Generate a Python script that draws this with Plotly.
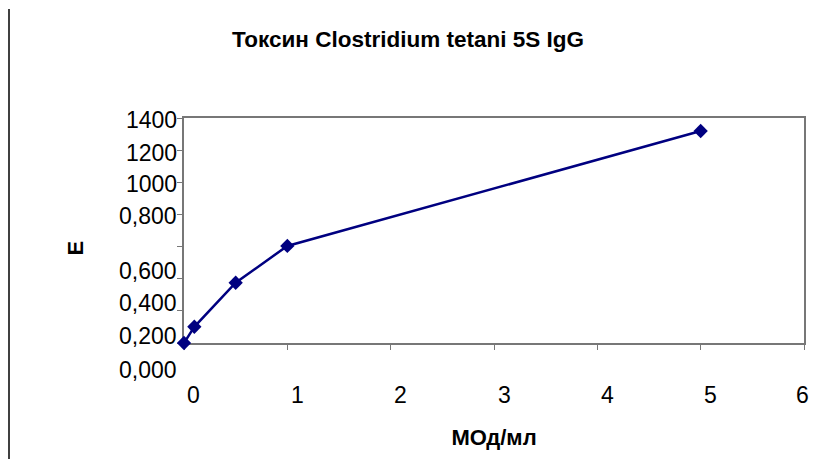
import plotly.graph_objects as go

# ---- data ----
x_vals = [0, 0.1, 0.5, 1, 5]
y_vals = [0.0, 0.101, 0.375, 0.604, 1.319]

x_tick_vals = [0, 1, 2, 3, 4, 5, 6]
x_tick_labels = ["0", "1", "2", "3", "4", "5", "6"]

y_tick_vals = [0, 0.2, 0.4, 0.6, 0.8, 1.0, 1.2, 1.4]
y_tick_labels = ["1400", "1200", "1000", "0,800", "0,600", "0,400", "0,200", "0,000"]

title_text = "Токсин Clostridium tetani 5S IgG"
x_title = "МОд/мл"
y_title = "Е"

# ---- layout helpers (label placement, as in the reference) ----
Y_MIN, Y_MAX = 0, 1.4
y_label_anchor = [1.4, 1.2, 1.0, 0.8, 0.4, 0.2, 0.0, -0.2]
y_label_shift = [-2, -3, -2, -2, 8, 8, 7, 5]
x_label_shift = [9, 10, 10, 10, 10, 10, -2]

FONT = "Liberation Sans, Arial, sans-serif"
AXC = "#777777"

# page body has an 8px margin, so the figure is sized to fit inside it
W, H = 811, 451
ML, MR, MT, MB = 176, 15, 110, 116
PW, PH = W - ML - MR, H - MT - MB

fig = go.Figure()
fig.add_trace(go.Scatter(
    x=x_vals, y=y_vals, mode="lines+markers",
    line=dict(color="#000080", width=2.5),
    marker=dict(symbol="diamond", size=11, color="#000080"),
    cliponaxis=False, showlegend=False,
))

annotations = []
for lab, v, s in zip(y_tick_labels, y_label_anchor, y_label_shift):
    annotations.append(dict(
        text=lab, xref="paper", x=0, xanchor="right", xshift=-5,
        yref="paper", y=(v - Y_MIN) / (Y_MAX - Y_MIN), yanchor="middle", yshift=s,
        showarrow=False, font=dict(family=FONT, size=23, color="black"),
    ))
for lab, v, s in zip(x_tick_labels, x_tick_vals, x_label_shift):
    annotations.append(dict(
        text=lab, xref="x", x=v, xanchor="center", xshift=s,
        yref="paper", y=0, yanchor="middle", yshift=-52,
        showarrow=False, font=dict(family=FONT, size=23, color="black"),
    ))
# y-axis title (sits below the vertical centre in the reference)
annotations.append(dict(
    text="<b>" + y_title + "</b>", textangle=-90,
    xref="paper", x=0, xanchor="center", xshift=-109,
    yref="paper", y=0.5, yanchor="middle", yshift=-18,
    showarrow=False, font=dict(family=FONT, size=22, color="black"),
))

fig.update_layout(
    width=W, height=H,
    margin=dict(l=ML, r=MR, t=MT, b=MB),
    paper_bgcolor="white", plot_bgcolor="white",
    font=dict(family=FONT, size=22, color="black"),
    title=dict(text="<b>" + title_text + "</b>", x=(408 - 8) / W, xanchor="center",
               y=1 - 31 / H, yanchor="middle", yref="container",
               font=dict(family=FONT, size=22.5, color="black")),
    annotations=annotations,
    shapes=[dict(type="line", xref="paper", yref="paper",
                 x0=-(ML - 1) / PW, x1=-(ML - 1) / PW,
                 y0=-MB / PH, y1=(PH + MT - 1) / PH,
                 line=dict(color="black", width=1.5))],
)
fig.update_xaxes(
    range=[0, 6], tickvals=x_tick_vals, showticklabels=False,
    ticks="outside", ticklen=5, tickcolor=AXC, tickwidth=1,
    showline=True, linecolor=AXC, linewidth=2, mirror=True,
    showgrid=False, zeroline=False, layer="below traces",
    title=dict(text="<b>" + x_title + "</b>", standoff=81,
               font=dict(family=FONT, size=22, color="black")),
)
fig.update_yaxes(
    range=[Y_MIN, Y_MAX], tickvals=y_tick_vals, showticklabels=False,
    ticks="outside", ticklen=5, tickcolor=AXC, tickwidth=1,
    showline=True, linecolor=AXC, linewidth=2, mirror=True,
    showgrid=False, zeroline=False, layer="below traces",
)

fig.write_html("out.html")
